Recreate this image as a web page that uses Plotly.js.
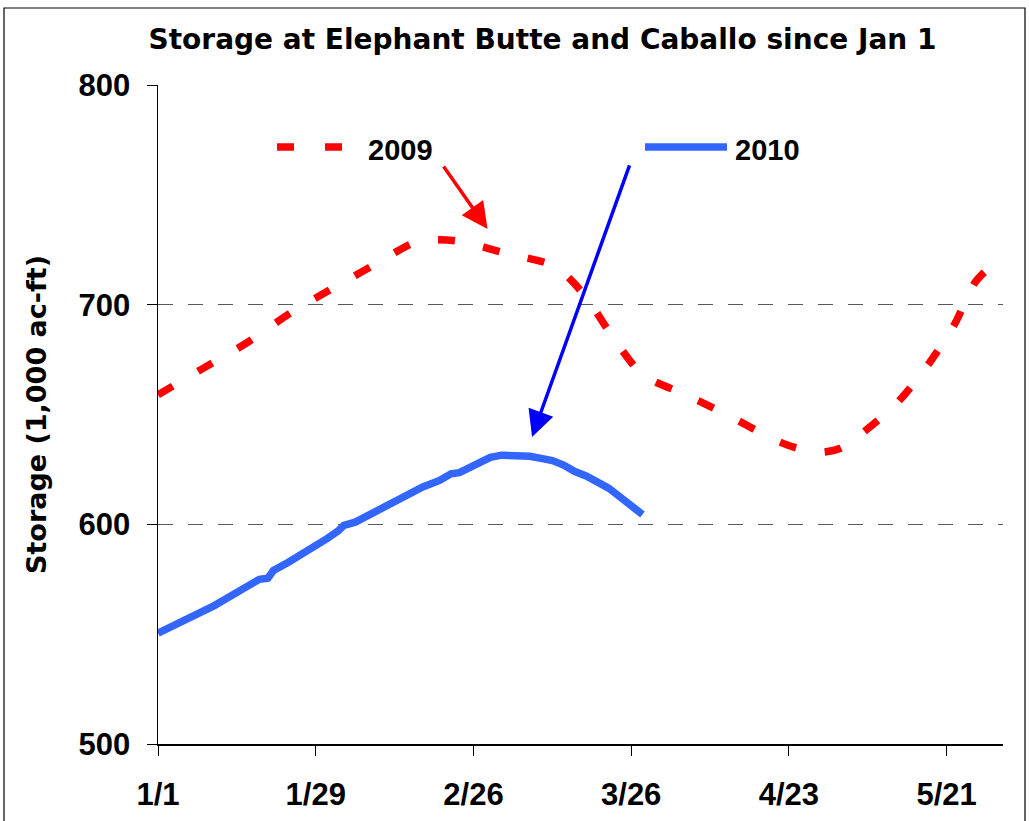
<!DOCTYPE html>
<html>
<head>
<meta charset="utf-8">
<script src="https://cdn.plot.ly/plotly-3.0.1.min.js"></script>
<style>html,body{margin:0;padding:0;background:#fff;}#chart{width:1029px;height:821px;}</style>
</head>
<body>
<div id="chart"></div>
<script>
// Days since Jan 1
var days2009 = [0, 8, 16, 23.4, 30.7, 38.3, 45.8, 50, 54, 61.9, 70, 73, 76.4, 80.8, 86.1, 93.7, 101.7, 109, 113, 117.2, 121, 125, 131.3, 136.8, 141.5, 145, 148.5];
var storage2009 = [659, 671, 683, 696, 707, 718, 728.5, 729.5, 728.6, 723.3, 718, 712, 702, 685, 668, 659, 649, 639, 635, 632.8, 634.5, 641.5, 655.6, 673, 691.6, 710, 719];

var days2010 = [0, 3, 6, 8, 10, 12, 14, 16, 18, 19.5, 20.5, 23, 26, 28, 30, 32, 33, 35, 38, 41, 44, 47, 50, 52, 53.5, 56, 59, 61, 64, 66, 68, 70, 72, 74, 76, 78, 80, 82, 84, 86];
var storage2010 = [550.5, 554, 558, 560.5, 563, 566, 569, 572, 575, 575.5, 579, 582.5, 587, 590.5, 593.5, 597, 599.5, 601, 605, 609, 613, 617, 620, 623, 623.5, 627, 630.5, 631.5, 631.5, 631, 630, 629, 627, 624, 622, 619.5, 616.5, 612.5, 608.5, 604.5];

var tickDays = [0, 28, 56, 84, 112, 140];
var tickLabels = ['1/1', '1/29', '2/26', '3/26', '4/23', '5/21'];
var yTicks = [500, 600, 700, 800];
var seriesNames = ['2009', '2010'];

var traces = [
  {x: days2009, y: storage2009, type: 'scatter', mode: 'lines', name: seriesNames[0],
   line: {color: '#FF0000', width: 7.5, dash: '17px,29px', shape: 'spline', smoothing: 0.8}},
  {x: days2010, y: storage2010, type: 'scatter', mode: 'lines', name: seriesNames[1],
   line: {color: '#3366FF', width: 7.5}}
];

var tickFont = {family: 'Liberation Sans, Arial, sans-serif', size: 31, color: '#000', weight: 'bold'};

var layout = {
  width: 1029, height: 821,
  margin: {l: 158, r: 26, t: 85, b: 77},
  paper_bgcolor: '#fff', plot_bgcolor: '#fff',
  showlegend: false,
  title: {text: '<b>Storage at Elephant Butte and Caballo since Jan 1</b>',
          font: {family: 'DejaVu Sans, sans-serif', size: 28, color: '#000'},
          xref: 'container', yref: 'container', x: 542.5/1029, xanchor: 'center', y: 1 - 39/821, yanchor: 'middle'},
  xaxis: {range: [0, 150], tickvals: tickDays, ticktext: tickLabels, showgrid: false, zeroline: false,
          showline: true, linecolor: '#000', linewidth: 1.5, ticks: 'outside', ticklen: 10, tickwidth: 1, tickcolor: '#000',
          tickfont: tickFont, ticklabelstandoff: 12, fixedrange: true},
  yaxis: {range: [500, 800], tickvals: yTicks, showgrid: true, gridcolor: '#5a5a5a', gridwidth: 1.5, griddash: 'longdash',
          zeroline: false, showline: true, linecolor: '#000', linewidth: 1.5, ticks: 'outside', ticklen: 10, tickwidth: 1, tickcolor: '#000',
          tickfont: tickFont, ticklabelstandoff: 10,
          title: {text: '<b>Storage (1,000 ac-ft)</b>', font: {family: 'DejaVu Sans, sans-serif', size: 27, color: '#000'}, standoff: 24},
          fixedrange: true},
  shapes: [
    {type: 'rect', xref: 'paper', yref: 'paper', x0: (4-158)/845, x1: (1025-158)/845, y0: (744-830)/659, y1: (744-8)/659,
     line: {color: '#000', width: 1.2}, fillcolor: 'rgba(0,0,0,0)', layer: 'below'},
    {type: 'line', xref: 'paper', yref: 'paper', x0: (277-158)/845, x1: (342-158)/845, y0: (744-147)/659, y1: (744-147)/659,
     line: {color: '#FF0000', width: 7.5, dash: '17px,31px'}},
    {type: 'line', xref: 'paper', yref: 'paper', x0: (645-158)/845, x1: (727-158)/845, y0: (744-147)/659, y1: (744-147)/659,
     line: {color: '#3366FF', width: 7.5}}
  ],
  annotations: [
    {xref: 'paper', yref: 'paper', x: (366-158)/845, y: (744-150)/659, xanchor: 'left', yanchor: 'middle', showarrow: false,
     text: '<b>' + seriesNames[0] + '</b>', font: {family: 'Liberation Sans, Arial, sans-serif', size: 29, color: '#000'}},
    {xref: 'paper', yref: 'paper', x: (733-158)/845, y: (744-150)/659, xanchor: 'left', yanchor: 'middle', showarrow: false,
     text: '<b>' + seriesNames[1] + '</b>', font: {family: 'Liberation Sans, Arial, sans-serif', size: 29, color: '#000'}},
    {xref: 'x', yref: 'y', x: 58.5, y: 734.4, text: '', showarrow: true, arrowhead: 2, arrowsize: 1.5, arrowwidth: 3.5,
     arrowcolor: '#FF0000', ax: -45, ay: -64, standoff: 0},
    {xref: 'x', yref: 'y', x: 66.4, y: 639.8, text: '', showarrow: true, arrowhead: 2, arrowsize: 1.5, arrowwidth: 3.5,
     arrowcolor: '#0000FF', ax: 98, ay: -273, standoff: 0}
  ]
};

Plotly.newPlot('chart', traces, layout, {displayModeBar: false, staticPlot: true});
</script>
</body>
</html>
